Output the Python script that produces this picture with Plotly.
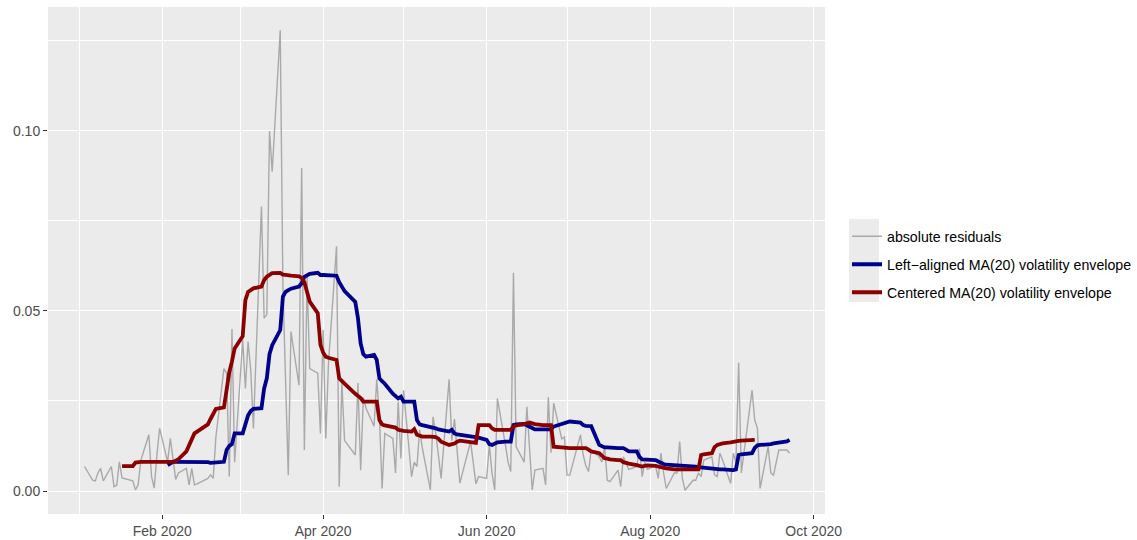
import pandas as pd
import plotly.graph_objects as go

# Trading calendar (weekdays without exchange holidays)
market_holidays = ["2020-01-20", "2020-02-17", "2020-04-10", "2020-05-25",
                   "2020-07-03", "2020-09-07"]
trading_days = pd.bdate_range("2020-01-03", "2020-09-22", freq="C",
                              holidays=market_holidays)

# Absolute residuals, one per trading day
abs_resid = [
    # Jan
    0.0068, 0.0030, 0.0028, 0.0050, 0.0063, 0.0028, 0.0068, 0.0012, 0.0016, 0.0081,
    0.0036, 0.0028, 0.0003, 0.0017, 0.0085, 0.0156, 0.0040, 0.0008, 0.0100, 0.0174,
    # Feb
    0.0081, 0.0146, 0.0090, 0.0032, 0.0050, 0.0063, 0.0017, 0.0063, 0.0017, 0.0020,
    0.0035, 0.0045, 0.0035, 0.0150, 0.0340, 0.0327, 0.0040, 0.0450, 0.0080,
    # Mar
    0.0420, 0.0285, 0.0415, 0.0336, 0.0174, 0.0790, 0.0480, 0.0490, 0.1000, 0.0887,
    0.1280, 0.0567, 0.0300, 0.0044, 0.0443, 0.0294, 0.0897, 0.0114, 0.0595, 0.0340,
    0.0327, 0.0160,
    # Apr
    0.0447, 0.0146, 0.0355, 0.0680, 0.0012, 0.0300, 0.0140, 0.0100, 0.0300, 0.0058,
    0.0260, 0.0230, 0.0180, 0.0310, 0.0206, 0.0007, 0.0160, 0.0146, 0.0050, 0.0248,
    0.0090,
    # May
    0.0280, 0.0040, 0.0080, 0.0068, 0.0170, 0.0120, 0.0003, 0.0206, 0.0160, 0.0100,
    0.0035, 0.0310, 0.0140, 0.0200, 0.0100, 0.0022, 0.0137, 0.0080, 0.0020, 0.0040,
    # Jun
    0.0035, 0.0128, 0.0050, 0.0003, 0.0257, 0.0128, 0.0080, 0.0054, 0.0606, 0.0123,
    0.0080, 0.0234, 0.0100, 0.0003, 0.0058, 0.0063, 0.0017, 0.0260, 0.0106, 0.0244,
    0.0145, 0.0150,
    # Jul
    0.0044, 0.0044, 0.0156, 0.0100, 0.0070, 0.0054, 0.0114, 0.0095, 0.0080, 0.0123,
    0.0030, 0.0026, 0.0058, 0.0012, 0.0095, 0.0077, 0.0060, 0.0068, 0.0118, 0.0040,
    0.0080, 0.0060,
    # Aug
    0.0070, 0.0035, 0.0105, 0.0050, 0.0007, 0.0050, 0.0050, 0.0137, 0.0035, 0.0002,
    0.0030, 0.0030, 0.0050, 0.0040, 0.0086, 0.0095, 0.0045, 0.0040, 0.0105, 0.0086,
    0.0021,
    # Sep
    0.0105, 0.0080, 0.0356, 0.0050, 0.0280, 0.0197, 0.0174, 0.0007, 0.0123, 0.0050,
    0.0044, 0.0080, 0.0114, 0.0114, 0.0105,
]

# Centered MA(20) envelope: 17 Jan .. 9 Sep
centered_ma = [
    0.0069, 0.0069, 0.0079, 0.0081, 0.0081, 0.0081, 0.0081, 0.0081, 0.0081, 0.0081,
    0.0081, 0.0081, 0.0081, 0.0084, 0.0088, 0.0110, 0.0128, 0.0140, 0.0160, 0.0165,
    0.0185, 0.0200, 0.0215, 0.0228, 0.0232, 0.0290, 0.0330, 0.0360, 0.0396, 0.0430,
    0.0530, 0.0553, 0.0558, 0.0563, 0.0568, 0.0586, 0.0595, 0.0600, 0.0605, 0.0606,
    0.0601, 0.0600, 0.0600, 0.0598, 0.0596, 0.0592, 0.0580, 0.0550, 0.0526, 0.0494,
    0.0406, 0.0385, 0.0373, 0.0370, 0.0364, 0.0313, 0.0305, 0.0298, 0.0270, 0.0265,
    0.0258, 0.0248, 0.0248, 0.0250, 0.0248, 0.0197, 0.0185, 0.0182, 0.0179, 0.0176,
    0.0170, 0.0168, 0.0167, 0.0165, 0.0172, 0.0156, 0.0153, 0.0151, 0.0151, 0.0150,
    0.0150, 0.0145, 0.0137, 0.0128, 0.0130, 0.0132, 0.0137, 0.0140, 0.0136, 0.0135,
    0.0134, 0.0183, 0.0183, 0.0183, 0.0174, 0.0170, 0.0170, 0.0170, 0.0170, 0.0170,
    0.0179, 0.0182, 0.0186, 0.0188, 0.0190, 0.0188, 0.0186, 0.0183, 0.0183, 0.0183,
    0.0183, 0.0123, 0.0121, 0.0120, 0.0119, 0.0119, 0.0119, 0.0119, 0.0119, 0.0115,
    0.0110, 0.0105, 0.0098, 0.0091, 0.0090, 0.0088, 0.0086, 0.0086, 0.0080, 0.0077,
    0.0076, 0.0072, 0.0070, 0.0068, 0.0070, 0.0071, 0.0070, 0.0068, 0.0066, 0.0063,
    0.0063, 0.0060, 0.0060, 0.0060, 0.0059, 0.0058, 0.0058, 0.0058, 0.0060, 0.0100,
    0.0102, 0.0105, 0.0122, 0.0128, 0.0130, 0.0132, 0.0135, 0.0137, 0.0138, 0.0139,
    0.0140, 0.0141, 0.0142,
]

# Left-aligned MA(20) envelope: 3 Feb .. 22 Sep
left_ma = [
    0.0072, 0.0077, 0.0081, 0.0081, 0.0081, 0.0081, 0.0081, 0.0081, 0.0081, 0.0081,
    0.0080, 0.0078, 0.0079, 0.0080, 0.0081, 0.0114, 0.0125, 0.0130, 0.0160, 0.0160,
    0.0188, 0.0210, 0.0222, 0.0228, 0.0230, 0.0285, 0.0313, 0.0380, 0.0405, 0.0447,
    0.0540, 0.0553, 0.0558, 0.0562, 0.0568, 0.0577, 0.0595, 0.0600, 0.0603, 0.0606,
    0.0600, 0.0600, 0.0600, 0.0600, 0.0598, 0.0580, 0.0568, 0.0555, 0.0525, 0.0480,
    0.0410, 0.0380, 0.0373, 0.0378, 0.0364, 0.0313, 0.0305, 0.0298, 0.0270, 0.0265,
    0.0257, 0.0262, 0.0248, 0.0248, 0.0248, 0.0197, 0.0185, 0.0183, 0.0179, 0.0177,
    0.0174, 0.0171, 0.0170, 0.0165, 0.0170, 0.0160, 0.0157, 0.0156, 0.0152, 0.0151,
    0.0151, 0.0148, 0.0142, 0.0130, 0.0128, 0.0132, 0.0135, 0.0137, 0.0137, 0.0137,
    0.0183, 0.0185, 0.0186, 0.0183, 0.0179, 0.0175, 0.0171, 0.0171, 0.0171, 0.0171,
    0.0171, 0.0179, 0.0186, 0.0190, 0.0193, 0.0193, 0.0190, 0.0183, 0.0181, 0.0180,
    0.0180, 0.0128, 0.0124, 0.0121, 0.0121, 0.0120, 0.0119, 0.0119, 0.0119, 0.0115,
    0.0110, 0.0110, 0.0095, 0.0088, 0.0088, 0.0088, 0.0086, 0.0082, 0.0077, 0.0075,
    0.0073, 0.0072, 0.0071, 0.0070, 0.0069, 0.0069, 0.0068, 0.0068, 0.0066, 0.0065,
    0.0064, 0.0063, 0.0062, 0.0061, 0.0060, 0.0060, 0.0058, 0.0058, 0.0060, 0.0100,
    0.0102, 0.0105, 0.0120, 0.0127, 0.0128, 0.0128, 0.0130, 0.0132, 0.0133, 0.0134,
    0.0138, 0.0142,
]

centered_days = trading_days[10:10 + len(centered_ma)]
left_days = trading_days[len(trading_days) - len(left_ma):]

major_x = ["2020-02-01", "2020-04-01", "2020-06-01", "2020-08-01", "2020-10-01"]
major_x_text = ["Feb 2020", "Apr 2020", "Jun 2020", "Aug 2020", "Oct 2020"]
minor_x = ["2020-01-01", "2020-03-01", "2020-05-01", "2020-07-01", "2020-09-01"]
major_y = [0.0, 0.05, 0.10]
major_y_text = ["0.00", "0.05", "0.10"]
minor_y = [0.025, 0.075, 0.125]

FONT = "Liberation Sans, Arial, Helvetica, sans-serif"
TICK_SIZE = 14
LEGEND_SIZE = 14.2

fig = go.Figure()
fig.add_trace(go.Scatter(
    x=trading_days, y=abs_resid, mode="lines", name="absolute residuals",
    line=dict(color="#A9A9A9", width=1.4), legend="legend",
))
fig.add_trace(go.Scatter(
    x=left_days, y=left_ma, mode="lines",
    name="Left\u2212aligned MA(20) volatility envelope",
    line=dict(color="#00008B", width=3.8), legend="legend2",
))
fig.add_trace(go.Scatter(
    x=centered_days, y=centered_ma, mode="lines",
    name="Centered MA(20) volatility envelope",
    line=dict(color="#8B0000", width=3.8), legend="legend3",
))

# panel geometry in pixels
W, H = 1137, 540
L, R, T, B = 48, 825, 7, 514
pw, ph = R - L, B - T


def px_x(p):
    return (p - L) / pw


def px_y(p):
    return (B - p) / ph


# grey background behind the legend keys
fig.add_shape(type="rect", xref="paper", yref="paper",
              x0=px_x(849), x1=px_x(879), y0=px_y(302), y1=px_y(219),
              fillcolor="#EBEBEB", line=dict(width=0), layer="below")


def legend_box(row_center):
    return dict(
        x=px_x(847), xanchor="left", y=px_y(row_center), yanchor="middle",
        bgcolor="rgba(0,0,0,0)", borderwidth=0,
        font=dict(family=FONT, size=LEGEND_SIZE, color="#000000"),
        itemwidth=30,
    )


axis_common = dict(
    showgrid=True, gridcolor="white", gridwidth=1.1,
    ticks="outside", ticklen=4, tickwidth=1.1, tickcolor="#333333",
    tickfont=dict(family=FONT, size=TICK_SIZE, color="#4D4D4D"),
    zeroline=False, showline=False, automargin=False,
)

fig.update_layout(
    width=W, height=H,
    margin=dict(l=L, r=W - R, t=T, b=H - B, pad=0, autoexpand=False),
    paper_bgcolor="white", plot_bgcolor="#EBEBEB",
    font=dict(family=FONT, size=12, color="#4D4D4D"),
    showlegend=True,
    legend=legend_box(236.5),
    legend2=legend_box(264.5),
    legend3=legend_box(292.5),
    xaxis=dict(
        type="date",
        range=["2019-12-20 09:00", "2020-10-05 05:00"],
        tickmode="array", tickvals=major_x, ticktext=major_x_text,
        minor=dict(tickmode="array", tickvals=minor_x, showgrid=True,
                   gridcolor="white", gridwidth=0.55, ticks=""),
        **axis_common,
    ),
    yaxis=dict(
        range=[-0.00639, 0.13444],
        tickmode="array", tickvals=major_y, ticktext=major_y_text,
        minor=dict(tickmode="array", tickvals=minor_y, showgrid=True,
                   gridcolor="white", gridwidth=0.55, ticks=""),
        **axis_common,
    ),
)

fig.write_html("out.html")
